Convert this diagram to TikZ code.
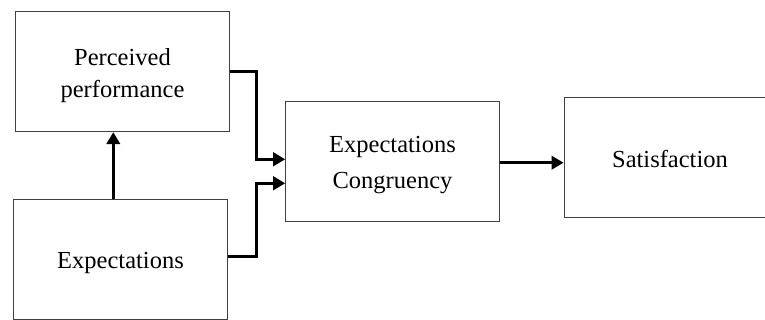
\documentclass[tikz,border=0pt]{standalone}
\usepackage{fontspec}
\setmainfont{Liberation Serif}
\usetikzlibrary{arrows.meta}
\tikzset{
  box/.style={draw=black!75, line width=1pt, fill=white, inner sep=0pt},
  lbl/.style={align=center, inner sep=0pt, anchor=base, font=\fontsize{24.5}{31.6}\selectfont},
  conn/.style={line width=2.6pt, -{Triangle[length=12pt,width=13.5pt]}}
}
\begin{document}
\begin{tikzpicture}[x=1pt,y=-1pt]
\useasboundingbox (0,0) rectangle (765,320);
\node[box, minimum width=213.6pt, minimum height=120.4pt] (P) at (122.5,71.5) {};
\node[box, minimum width=214pt, minimum height=120pt] (E) at (120.7,259.3) {};
\node[box, minimum width=213.6pt, minimum height=120pt] (C) at (392.5,161.7) {};
\node[box, minimum width=212pt, minimum height=120.4pt] (S) at (670,157.5) {};
\node[lbl] (Pt) at (122.5,97.3) {Perceived\\performance};
\node[lbl] (Et) at (120.5,268.3) {Expectations};
\node[lbl, font=\fontsize{24.5}{36.7}\selectfont] (Ct) at (392.5,189) {Expectations\\Congruency};
\node[lbl] (St) at (670,167.3) {Satisfaction};
\coordinate (j) at (256.7,0);
\draw[conn] (P.east |- 0,71.7) -| (j |- 0,115) |- (C.west |- 0,159.3);
\draw[conn] (E.east |- 0,256.7) -| (j |- 0,220) |- (C.west |- 0,183.3);
\draw[conn] (E.north -| 113.3,0) -- (P.south -| 113.3,0);
\draw[conn] (C.east |- 0,162.7) -- (S.west |- 0,162.7);
\end{tikzpicture}
\end{document}
